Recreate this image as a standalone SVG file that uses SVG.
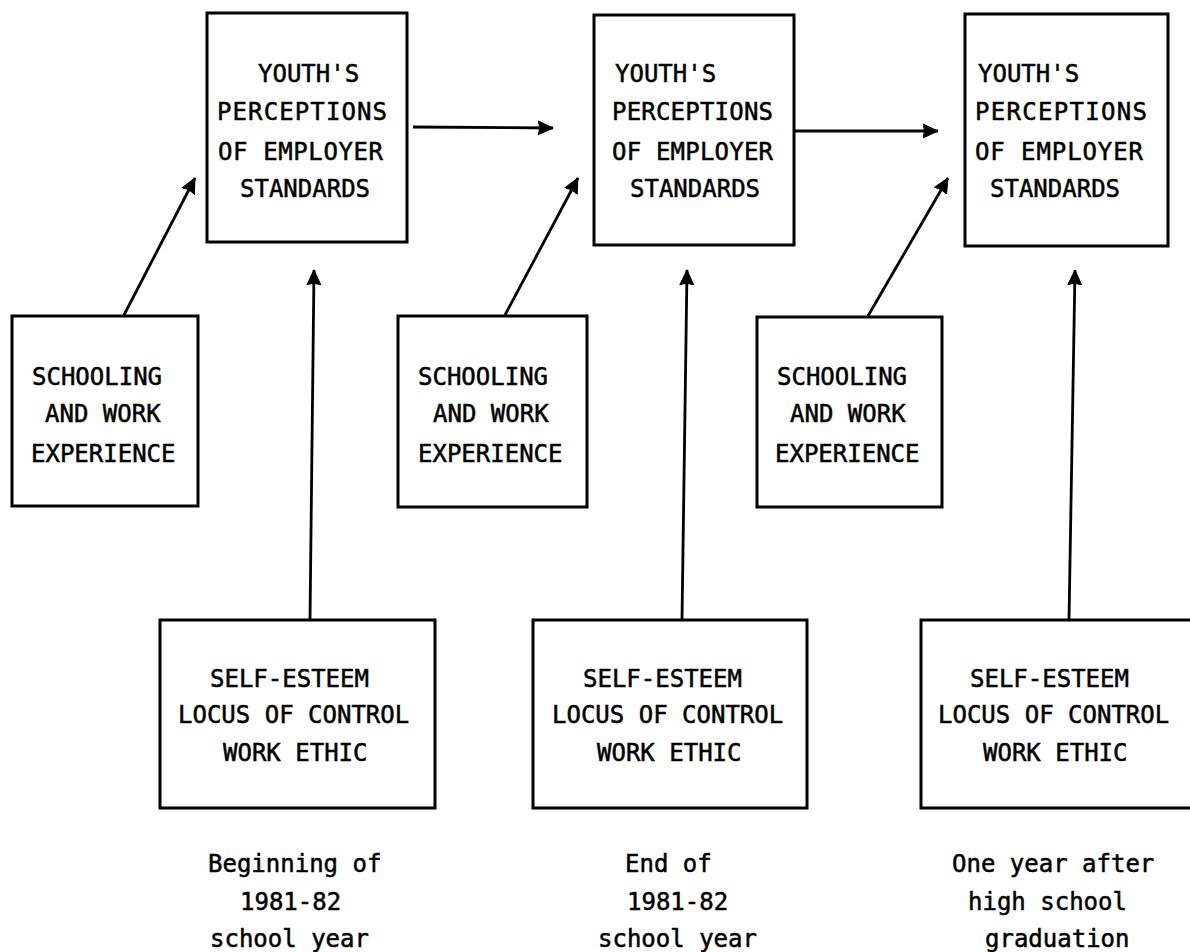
<svg xmlns="http://www.w3.org/2000/svg" width="1190" height="952" viewBox="0 0 1190 952">
<style>
.box{fill:none;stroke:#000;stroke-width:3}
.t{font-family:"DejaVu Sans Mono","Liberation Mono",monospace;font-size:24px;fill:#000;stroke:#000;stroke-width:0.5}
.c{stroke:#000;stroke-width:2.8;fill:none}
</style>
<defs>
<marker id="ah" markerUnits="userSpaceOnUse" markerWidth="16" markerHeight="16" refX="15" refY="8" orient="auto">
<path d="M0,1 L15,8 L0,15 Q3,8 0,1 z" fill="#000" stroke="#000" stroke-width="1" stroke-linejoin="round"/>
</marker>
</defs>
<rect width="1190" height="952" fill="#fff"/>

<g id="perc1">
<rect class="box" x="207" y="13" width="200" height="229"/>
<text class="t" x="258" y="82">YOUTH'S</text>
<text class="t" x="217" y="120" textLength="170" lengthAdjust="spacing">PERCEPTIONS</text>
<text class="t" x="218" y="160" textLength="165" lengthAdjust="spacing">OF EMPLOYER</text>
<text class="t" x="240" y="197">STANDARDS</text>
</g>
<g id="perc2">
<rect class="box" x="594" y="15" width="200" height="230"/>
<text class="t" x="615" y="82">YOUTH'S</text>
<text class="t" x="612" y="120" textLength="161" lengthAdjust="spacing">PERCEPTIONS</text>
<text class="t" x="612" y="160" textLength="161" lengthAdjust="spacing">OF EMPLOYER</text>
<text class="t" x="630" y="197">STANDARDS</text>
</g>
<g id="perc3">
<rect class="box" x="965" y="14" width="203" height="232"/>
<text class="t" x="978" y="82">YOUTH'S</text>
<text class="t" x="975" y="120" textLength="172" lengthAdjust="spacing">PERCEPTIONS</text>
<text class="t" x="975" y="160" textLength="168" lengthAdjust="spacing">OF EMPLOYER</text>
<text class="t" x="990" y="197">STANDARDS</text>
</g>

<g id="school1">
<rect class="box" x="12" y="316" width="186" height="190"/>
<text class="t" x="32" y="385">SCHOOLING</text>
<text class="t" x="45" y="422">AND WORK</text>
<text class="t" x="31" y="462">EXPERIENCE</text>
</g>
<g id="school2">
<rect class="box" x="398" y="316" width="189" height="191"/>
<text class="t" x="418" y="385">SCHOOLING</text>
<text class="t" x="433" y="422">AND WORK</text>
<text class="t" x="418" y="462">EXPERIENCE</text>
</g>
<g id="school3">
<rect class="box" x="757" y="317" width="185" height="190"/>
<text class="t" x="777" y="385">SCHOOLING</text>
<text class="t" x="790" y="422">AND WORK</text>
<text class="t" x="775" y="462">EXPERIENCE</text>
</g>

<g id="self1">
<rect class="box" x="160" y="620" width="275" height="188"/>
<text class="t" x="210" y="687">SELF-ESTEEM</text>
<text class="t" x="178" y="723">LOCUS OF CONTROL</text>
<text class="t" x="223" y="761">WORK ETHIC</text>
</g>
<g id="self2">
<rect class="box" x="533" y="620" width="274" height="188"/>
<text class="t" x="583" y="687">SELF-ESTEEM</text>
<text class="t" x="552" y="723">LOCUS OF CONTROL</text>
<text class="t" x="597" y="761">WORK ETHIC</text>
</g>
<g id="self3">
<path class="box" d="M1192,620 H921 V808 H1192"/>
<text class="t" x="970" y="687">SELF-ESTEEM</text>
<text class="t" x="938" y="723">LOCUS OF CONTROL</text>
<text class="t" x="983" y="761">WORK ETHIC</text>
</g>

<g id="time1">
<text class="t" x="208" y="872">Beginning of</text>
<text class="t" x="240" y="910">1981-82</text>
<text class="t" x="210" y="947">school year</text>
</g>
<g id="time2">
<text class="t" x="625" y="872">End of</text>
<text class="t" x="627" y="910">1981-82</text>
<text class="t" x="598" y="947">school year</text>
</g>
<g id="time3">
<text class="t" x="952" y="872">One year after</text>
<text class="t" x="968" y="910">high school</text>
<text class="t" x="985" y="947">graduation</text>
</g>

<g id="connectors">
<line class="c" x1="413" y1="127" x2="553" y2="128" marker-end="url(#ah)"/>
<line class="c" x1="794" y1="131" x2="938" y2="131" marker-end="url(#ah)"/>
<line class="c" x1="124" y1="315" x2="195" y2="178" marker-end="url(#ah)"/>
<line class="c" x1="505" y1="315" x2="578" y2="178" marker-end="url(#ah)"/>
<line class="c" x1="868" y1="316" x2="948" y2="178" marker-end="url(#ah)"/>
<line class="c" x1="310" y1="620" x2="314" y2="270" marker-end="url(#ah)"/>
<line class="c" x1="682" y1="620" x2="687" y2="270" marker-end="url(#ah)"/>
<line class="c" x1="1069" y1="620" x2="1075" y2="270" marker-end="url(#ah)"/>
</g>
</svg>
